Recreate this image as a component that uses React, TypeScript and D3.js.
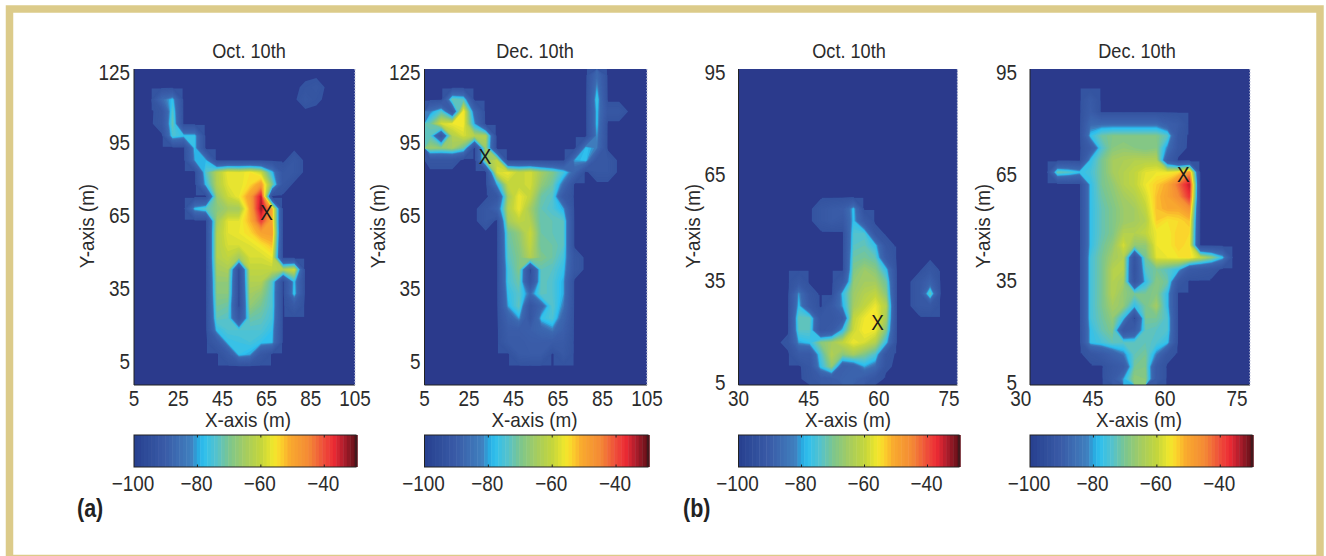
import React from 'react';
import * as d3 from 'd3';

// signal level in dB above the -100 dBm floor, one row per 5 m cell, top row first
const octA = [
  [0,0,0,0,0,0,0,0,0,0,0,0,0,0,0,0,0,0,0,0],
  [0,0,0,0,0,0,0,0,0,0,0,0,0,0,0,2,4,0,0,0],
  [0,0,18,24,0,0,0,0,0,0,0,0,0,0,0,5,2,0,0,0],
  [0,0,4,28,0,0,0,0,0,0,0,0,0,0,0,0,0,0,0,0],
  [0,0,5,30,0,0,0,0,0,0,0,0,0,0,0,0,0,0,0,0],
  [0,0,0,27,24,24,0,0,0,0,0,0,0,0,0,0,0,0,0,0],
  [0,0,0,0,0,24,0,0,0,0,0,0,0,0,0,0,0,0,0,0],
  [0,0,0,0,0,22,23,0,0,0,0,0,0,0,5,0,0,0,0,0],
  [0,0,0,0,0,0,28,38,44,43,45,41,24,5,5,0,0,0,0,0],
  [0,0,0,0,0,0,24,38,43,43,46,52,32,5,0,0,0,0,0,0],
  [0,0,0,0,0,0,0,35,41,44,52,66,0,0,0,0,0,0,0,0],
  [0,0,0,0,0,24,28,33,36,36,50,68,50,0,0,0,0,0,0,0],
  [0,0,0,0,0,0,0,36,43,43,49,62,50,0,0,0,0,0,0,0],
  [0,0,0,0,0,0,0,38,43,44,46,51,52,0,0,0,0,0,0,0],
  [0,0,0,0,0,0,0,38,42,42,43,45,48,0,0,0,0,0,0,0],
  [0,0,0,0,0,0,0,38,40,36,42,42,44,0,0,0,0,0,0,0],
  [0,0,0,0,0,0,0,36,37,0,40,40,40,38,42,0,0,0,0,0],
  [0,0,0,0,0,0,0,34,34,0,38,38,28,0,24,0,0,0,0,0],
  [0,0,0,0,0,0,0,33,33,0,36,34,27,0,25,0,0,0,0,0],
  [0,0,0,0,0,0,0,31,30,0,34,31,27,0,8,0,0,0,0,0],
  [0,0,0,0,0,0,0,29,28,6,30,29,26,0,0,0,0,0,0,0],
  [0,0,0,0,0,0,0,24,27,27,27,27,24,0,0,0,0,0,0,0],
  [0,0,0,0,0,0,0,8,24,25,26,24,23,0,0,0,0,0,0,0],
  [0,0,0,0,0,0,0,0,8,24,22,6,0,0,0,0,0,0,0,0],
  [0,0,0,0,0,0,0,0,0,0,0,0,0,0,0,0,0,0,0,0],
  [0,0,0,0,0,0,0,0,0,0,0,0,0,0,0,0,0,0,0,0],
];

const decA = [
  [0,0,0,0,0,0,0,0,0,0,0,0,0,0,0,18,0,0,0,0],
  [0,0,0,0,0,0,0,0,0,0,0,0,0,0,0,22,0,0,0,0],
  [0,0,30,28,0,0,0,0,0,0,0,0,0,0,0,26,0,0,0,0],
  [20,28,8,46,16,0,0,0,0,0,0,0,0,0,0,24,5,5,0,0],
  [30,42,44,45,22,0,0,0,0,0,0,0,0,0,0,24,0,0,0,0],
  [28,6,38,42,38,38,0,0,0,0,0,0,0,0,0,22,0,0,0,0],
  [35,34,36,30,0,35,0,0,0,0,0,0,0,0,24,20,0,0,0,0],
  [4,4,4,0,0,35,40,0,0,0,0,0,0,22,24,5,5,0,0,0],
  [0,0,0,0,0,0,42,44,40,42,36,32,26,16,0,5,5,0,0,0],
  [0,0,0,0,0,0,22,40,40,42,34,30,18,0,0,0,0,0,0,0],
  [0,0,0,0,0,0,5,36,44,40,30,28,8,0,0,0,0,0,0,0],
  [0,0,0,0,0,5,14,38,44,36,29,27,22,0,0,0,0,0,0,0],
  [0,0,0,0,0,5,0,36,40,38,29,29,28,0,0,0,0,0,0,0],
  [0,0,0,0,0,0,0,30,34,41,30,29,28,0,0,0,0,0,0,0],
  [0,0,0,0,0,0,0,29,33,40,30,30,28,0,0,0,0,0,0,0],
  [0,0,0,0,0,0,0,28,32,38,32,30,26,5,0,0,0,0,0,0],
  [0,0,0,0,0,0,0,26,32,0,29,28,24,5,0,0,0,0,0,0],
  [0,0,0,0,0,0,0,26,30,2,29,27,22,0,0,0,0,0,0,0],
  [0,0,0,0,0,0,0,24,28,18,29,27,22,0,0,0,0,0,0,0],
  [0,0,0,0,0,0,0,22,29,4,16,28,20,0,0,0,0,0,0,0],
  [0,0,0,0,0,0,0,14,22,4,24,27,16,0,0,0,0,0,0,0],
  [0,0,0,0,0,0,0,10,10,12,16,20,12,0,0,0,0,0,0,0],
  [0,0,0,0,0,0,0,8,8,10,10,9,8,0,0,0,0,0,0,0],
  [0,0,0,0,0,0,0,0,8,9,9,0,6,0,0,0,0,0,0,0],
  [0,0,0,0,0,0,0,0,0,0,0,0,0,0,0,0,0,0,0,0],
  [0,0,0,0,0,0,0,0,0,0,0,0,0,0,0,0,0,0,0,0],
];

const octB = [
  [0,0,0,0,0,0,0,0,0,0,0,0,0,0,0,0,0,0,0,0],
  [0,0,0,0,0,0,0,0,0,0,0,0,0,0,0,0,0,0,0,0],
  [0,0,0,0,0,0,0,0,0,0,0,0,0,0,0,0,0,0,0,0],
  [0,0,0,0,0,0,0,0,0,0,0,0,0,0,0,0,0,0,0,0],
  [0,0,0,0,0,0,0,0,0,0,0,0,0,0,0,0,0,0,0,0],
  [0,0,0,0,0,0,0,0,0,0,0,0,0,0,0,0,0,0,0,0],
  [0,0,0,0,0,0,0,0,0,0,0,0,0,0,0,0,0,0,0,0],
  [0,0,0,0,0,0,0,0,0,0,0,0,0,0,0,0,0,0,0,0],
  [0,0,0,0,0,0,0,0,0,0,0,0,0,0,0,0,0,0,0,0],
  [0,0,0,0,0,0,0,0,0,0,0,0,0,0,0,0,0,0,0,0],
  [0,0,0,0,0,0,0,0,0,0,0,0,0,0,0,0,0,0,0,0],
  [0,0,0,0,0,0,0,5,8,10,24,0,0,0,0,0,0,0,0,0],
  [0,0,0,0,0,0,0,5,8,6,24,8,0,0,0,0,0,0,0,0],
  [0,0,0,0,0,0,0,0,0,0,27,27,4,0,0,0,0,0,0,0],
  [0,0,0,0,0,0,0,0,0,0,28,29,24,4,0,0,0,0,0,0],
  [0,0,0,0,0,0,0,0,0,0,30,31,29,8,0,0,0,0,0,0],
  [0,0,0,0,0,0,0,0,0,0,32,35,33,24,0,0,0,5,0,0],
  [0,0,0,0,0,6,0,0,0,8,34,36,36,30,0,0,5,14,0,0],
  [0,0,0,0,0,22,5,0,0,24,35,38,40,33,0,0,5,30,0,0],
  [0,0,0,0,0,24,8,0,8,22,36,40,44,38,0,0,5,6,0,0],
  [0,0,0,0,0,29,29,6,5,10,40,44,46,36,0,0,0,0,0,0],
  [0,0,0,0,0,28,28,5,8,24,41,45,44,32,0,0,0,0,0,0],
  [0,0,0,0,3,22,24,33,36,40,44,42,38,24,0,0,0,0,0,0],
  [0,0,0,0,0,8,8,27,38,33,36,32,27,4,0,0,0,0,0,0],
  [0,0,0,0,0,0,5,24,34,12,14,22,18,2,0,0,0,0,0,0],
  [0,0,0,0,0,0,4,8,10,14,14,10,4,0,0,0,0,0,0,0],
];

const decB = [
  [0,0,0,0,0,0,0,0,0,0,0,0,0,0,0,0,0,0,0,0],
  [0,0,0,0,0,0,0,0,0,0,0,0,0,0,0,0,0,0,0,0],
  [0,0,0,0,0,8,0,0,0,0,0,0,0,0,0,0,0,0,0,0],
  [0,0,0,0,0,10,0,0,0,0,0,0,0,0,0,0,0,0,0,0],
  [0,0,0,0,0,18,18,18,18,18,18,18,12,8,0,0,0,0,0,0],
  [0,0,0,0,0,24,30,32,32,32,32,32,28,5,0,0,0,0,0,0],
  [0,0,0,0,0,10,27,33,34,33,32,33,20,4,0,0,0,0,0,0],
  [0,0,0,0,0,24,31,36,37,38,38,38,10,0,0,0,0,0,0,0],
  [0,0,30,28,24,26,31,36,38,40,43,44,44,46,54,0,0,0,0,0],
  [0,0,0,0,0,24,31,34,38,40,44,47,50,58,66,0,0,0,0,0],
  [0,0,0,0,0,24,30,33,36,38,42,48,51,55,63,0,0,0,0,0],
  [0,0,0,0,0,24,29,32,35,36,40,48,50,50,54,0,0,0,0,0],
  [0,0,0,0,0,24,29,32,35,36,38,47,45,46,48,0,0,0,0,0],
  [0,0,0,0,0,24,29,32,38,38,40,44,44,47,46,0,0,0,0,0],
  [0,0,0,0,0,24,30,34,42,34,34,44,44,47,45,0,0,0,0,0],
  [0,0,0,0,0,26,31,36,38,4,31,43,44,45,46,40,34,24,0,0],
  [0,0,0,0,0,26,31,38,38,2,28,31,28,24,8,6,4,0,0,0],
  [0,0,0,0,0,26,31,38,36,4,24,33,30,6,0,0,0,0,0,0],
  [0,0,0,0,0,26,31,38,34,31,31,33,24,0,0,0,0,0,0,0],
  [0,0,0,0,0,26,31,36,34,24,31,36,24,0,0,0,0,0,0,0],
  [0,0,0,0,0,26,30,34,24,0,31,31,27,0,0,0,0,0,0,0],
  [0,0,0,0,0,24,29,32,6,10,29,28,27,0,0,0,0,0,0,0],
  [0,0,0,0,0,24,26,29,28,28,29,27,24,0,0,0,0,0,0,0],
  [0,0,0,0,0,4,8,14,20,29,31,20,4,0,0,0,0,0,0,0],
  [0,0,0,0,0,0,0,6,10,31,32,8,0,0,0,0,0,0,0,0],
  [0,0,0,0,0,0,0,8,22,34,33,8,0,0,0,0,0,0,0,0],
];

const barLevels = [0,10,18,20,22,26,30,35,40,44,46,49,55,60,63,66,70];
const barColors = ['#27408f','#3a5ca8','#4080bf','#28a8e0','#2fc0ee','#55c2cc','#7cc68e','#a5cc60','#c4d63c','#f2e82c','#fbd52c','#f9ab2e','#f48a35','#ee4b3a','#ec2a34','#b01e2c','#5e0f18'];
const barTicks = [-100, -80, -60, -40];

const yTicksA = [5, 35, 65, 95, 125];
const xTicksA = [5, 25, 45, 65, 85, 105];
const yTicksB = [5, 35, 65, 95];
const xTicksB = [30, 45, 60, 75];

const panels = [
  { title: 'Oct. 10th', titleX: 249, xLabelX: 248, grid: octA, left: 134, right: 355, xDomain: [5, 105], yDomain: [-5, 125], xTicks: xTicksA, yTicks: yTicksA, mark: [65, 66.3], yLabelX: 87, tickGap: 4 },
  { title: 'Dec. 10th', titleX: 535, xLabelX: 534.5, grid: decA, left: 424.5, right: 647, xDomain: [5, 105], yDomain: [-5, 125], xTicks: xTicksA, yTicks: yTicksA, mark: [32.2, 89.2], yLabelX: 378, tickGap: 4 },
  { title: 'Oct. 10th', titleX: 849, xLabelX: 848, grid: octB, left: 738.5, right: 957.5, xDomain: [30, 76.8], yDomain: [5, 95], xTicks: xTicksB, yTicks: yTicksB, mark: [59.7, 23], yLabelX: 693, tickGap: 13 },
  { title: 'Dec. 10th', titleX: 1137, xLabelX: 1139, grid: decB, left: 1030, right: 1250, xDomain: [31.9, 77.7], yDomain: [5, 95], xTicks: xTicksB, yTicks: yTicksB, mark: [63.8, 65.1], yLabelX: 983, tickGap: 13 },
];

const barX = [[134, 356], [424.5, 648], [738.5, 959], [1030, 1252]];

const top = 69;
const bottom = 385;
const barTop = 435;
const barBottom = 467;
const font = '"Liberation Sans", sans-serif';
const ink = '#2b2b2b';

const color = d3.scaleLinear<string>().domain(barLevels).range(barColors).clamp(true);
// the map's outer band is a nearly flat pale blue, then rises quickly to cyan
const fieldLevel = d3.scaleLinear().domain([0, 1, 18, 22, 26, 32, 40, 70]).range([0, 7, 13, 21, 25, 31, 40, 70]);
const thresholds = d3.range(1, 70, 1);

// condensed type: the installed fonts have no narrow cut, so squeeze horizontally
function Label({ x, y, size, squeeze = 0.86, anchor = 'middle', children, ...rest }: any) {
  return (
    <text transform={`translate(${x},${y}) scale(${squeeze},1)`} textAnchor={anchor} fontSize={size} {...rest}>
      {children}
    </text>
  );
}

function Panel({ p, i }: any) {
  const nCols = p.grid[0].length;
  const nRows = p.grid.length;
  const x = d3.scaleLinear().domain(p.xDomain).range([p.left, p.right]);
  const y = d3.scaleLinear().domain(p.yDomain).range([bottom, top]);
  const gx = d3.scaleLinear().domain([0, nCols]).range([p.left, p.right]);
  const gy = d3.scaleLinear().domain([0, nRows]).range([top, bottom]);
  const contours = d3.contours().size([nCols, nRows]).thresholds(thresholds)(p.grid.flat());
  const path = d3.geoPath(d3.geoTransform({
    point(px, py) {
      this.stream.point(gx(px), gy(py));
    },
  }));
  // square off the stair corners of the pale band around each occupied cell
  const occupied = p.grid.flatMap((row, r) => row.map((v, c) => ({ v, r, c }))).filter(d => d.v >= 6);
  const [bx0, bx1] = barX[i];
  const bar = d3.scaleLinear().domain([-100, -30]).range([bx0, bx1]);
  const barCells = d3.range(-100, -30, 1.1);
  return (
    <g fontFamily={font} fill={ink}>
      <clipPath id={`clip${i}`}>
        <rect x={p.left} y={top} width={p.right - p.left} height={bottom - top} />
      </clipPath>
      <rect x={p.left} y={top} width={p.right - p.left} height={bottom - top} fill="#2b3a8c" />
      <g clipPath={`url(#clip${i})`}>
        {occupied.map(d => (
          <rect key={`${d.r}-${d.c}`} x={gx(d.c - 0.4)} y={gy(d.r - 0.4)} width={gx(1.8) - gx(0)} height={gy(1.8) - gy(0)} fill={color(7)} />
        ))}
        {contours.map(c => (
          <path key={c.value} d={path(c) || ''} fill={color(fieldLevel(c.value))} />
        ))}
      </g>
      <line x1={p.left} x2={p.right} y1={bottom} y2={bottom} stroke="#222" strokeWidth={1.2} />
      <line x1={p.left} x2={p.left} y1={top} y2={bottom} stroke="#222" strokeWidth={1} />
      <line x1={p.right} x2={p.right} y1={top} y2={bottom} stroke="#c8cce0" strokeWidth={1.2} strokeDasharray="1.5 1.5" />
      <Label x={p.titleX} y={58} size={19.5} squeeze={0.93}>{p.title}</Label>
      {p.xTicks.map(t => (
        <Label key={t} x={x(t)} y={406} size={22}>{t}</Label>
      ))}
      {p.yTicks.map(t => {
        const edge = t === p.yDomain[1] ? 3 : t === p.yDomain[0] ? -3 : 0;
        return (
          <Label key={t} x={p.left - p.tickGap} y={y(t) + edge + 8} size={22} anchor="end">{t}</Label>
        );
      })}
      <Label x={p.xLabelX} y={427} size={21} squeeze={0.9}>X-axis (m)</Label>
      <text transform={`translate(${p.yLabelX + 7},226) rotate(-90) scale(0.9,1)`} textAnchor="middle" fontSize={21}>Y-axis (m)</text>
      <Label x={x(p.mark[0])} y={y(p.mark[1]) + 8} size={22} fill="#1a1a1a">X</Label>

      {barCells.map(v => (
        <rect key={v} x={bar(v)} y={barTop} width={bar(v + 1.1) - bar(v) + 0.5} height={barBottom - barTop} fill={color(Math.min(v + 100.5, 70))} />
      ))}
      <rect x={bx0} y={barTop} width={bx1 - bx0} height={barBottom - barTop} fill="none" stroke="#222" strokeWidth={1} />
      {barTicks.slice(1).map(t => (
        <g key={t} stroke="#222">
          <line x1={bar(t)} x2={bar(t)} y1={barTop} y2={barTop + 2.5} />
          <line x1={bar(t)} x2={bar(t)} y1={barBottom - 2.5} y2={barBottom} />
        </g>
      ))}
      {barTicks.map(t => (
        <Label key={t} x={bar(t) - 1} y={491} size={22}>{`\u2212${Math.abs(t)}`}</Label>
      ))}
    </g>
  );
}

export default function App() {
  return (
    <svg width={1326} height={556} style={{ position: 'absolute', left: 0, top: 0, background: '#fff' }}>
      <rect x={9.5} y={9} width={1310.5} height={549.5} fill="none" stroke="#dccb8a" strokeWidth={7.5} />
      {panels.map((p, i) => <Panel key={i} p={p} i={i} />)}
      <Label x={77} y={517} anchor="start" fontFamily={font} fontWeight="bold" size={25} fill="#222">(a)</Label>
      <Label x={683} y={517} anchor="start" fontFamily={font} fontWeight="bold" size={25} fill="#222">(b)</Label>
    </svg>
  );
}
